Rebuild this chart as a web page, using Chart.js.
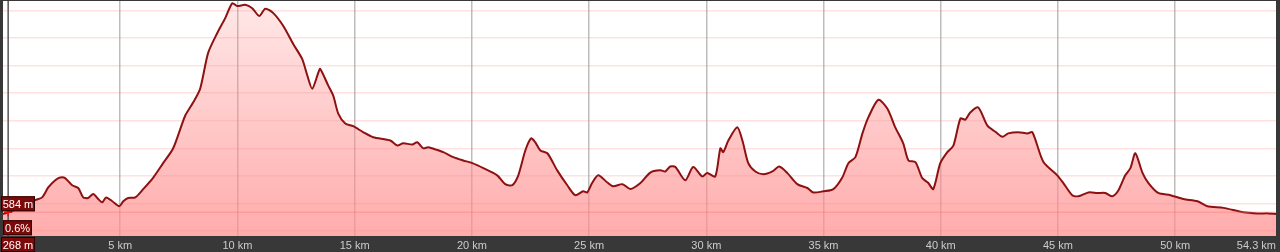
<!DOCTYPE html>
<html>
<head>
<meta charset="utf-8">
<script src="https://cdn.jsdelivr.net/npm/chart.js@4"></script>
<style>
  html, body { margin: 0; padding: 0; background: #383838; }
  #wrap { width: 1280px; height: 252px; position: relative; }
</style>
</head>
<body>
<div id="wrap"><canvas id="profile"></canvas></div>
<script>
// distance along the route (km) and elevation (m)
const distKm = [
  0, 0.22, 0.73, 1.37, 1.67, 1.93, 2.23, 2.44, 2.65, 2.95, 3.21, 3.42, 3.63, 3.85, 4.06, 4.23, 4.40, 4.66, 4.96,
  5.13, 5.34, 5.64, 5.98, 6.41, 6.83, 7.26, 7.77, 8.11, 8.41, 8.75, 9.14, 9.48, 9.78, 9.99,
  10.33, 10.63, 10.93, 11.19, 11.53, 11.95, 12.38, 12.76, 12.98, 13.19, 13.45, 13.53, 13.87, 14.09, 14.30, 14.60, 14.94,
  15.37, 15.79, 16.52, 16.82, 17.07, 17.46, 17.67, 17.93, 18.14, 18.44, 18.78, 19.21, 19.63,
  20.02, 20.49, 21.08, 21.42, 21.72, 21.98, 22.28, 22.53, 22.70, 22.92, 23.22, 23.64, 24.07, 24.41, 24.75, 24.92,
  25.14, 25.39, 25.78, 26.03, 26.42, 26.76, 27.19, 27.61, 28.04, 28.25, 28.46, 28.68, 29.10, 29.44, 29.83,
  30.04, 30.38, 30.60, 30.72, 30.94, 31.32, 31.54, 31.79, 32.09, 32.43, 32.82, 33.11, 33.46, 33.88, 34.31, 34.56, 34.99,
  35.42, 35.80, 36.06, 36.36, 36.66, 36.91, 37.34, 37.72, 38.06, 38.40, 38.62, 38.92, 39.21, 39.47, 39.68, 39.98,
  40.28, 40.54, 40.84, 41.05, 41.26, 41.60, 41.99, 42.33, 42.63, 42.88, 43.31, 43.70, 43.91, 44.38, 44.97,
  45.23, 45.61, 45.87, 46.30, 46.68, 47.02, 47.32, 47.58, 47.87, 48.09, 48.30, 48.60, 48.86, 49.28, 49.80,
  50.35, 50.95, 51.37, 52.06, 52.91, 53.51, 53.98, 54.3
];
const elevM = [
  581, 584, 592, 606, 611, 629, 642, 647, 646, 633, 628, 611, 610, 617, 608, 602, 611, 604, 595,
  604, 610, 611, 626, 647, 673, 700, 759, 783, 808, 873, 909, 936, 963, 958,
  960, 954, 940, 953, 945, 922, 889, 862, 832, 808, 837, 844, 814, 795, 763, 745, 740,
  729, 720, 714, 705, 709, 707, 711, 700, 702, 698, 693, 684, 678,
  673, 664, 651, 635, 633, 651, 696, 718, 711, 696, 691, 660, 633, 615, 622, 620,
  638, 651, 638, 631, 635, 626, 637, 656, 660, 658, 667, 666, 642, 666, 649,
  655, 649, 700, 693, 714, 738, 714, 673, 658, 653, 658, 667, 655, 635, 628, 620, 622,
  626, 647, 673, 684, 727, 756, 788, 772, 738, 709, 678, 675, 646, 637, 626, 673,
  693, 705, 754, 752, 765, 774, 741, 730, 721, 727, 729, 727, 729, 675, 651,
  637, 615, 613, 620, 619, 619, 613, 624, 651, 664, 691, 656, 637, 619, 615,
  608, 604, 595, 592, 584, 582, 582, 581
];
const xTicksKm = [0, 5, 10, 15, 20, 25, 30, 35, 40, 45, 50, 54.3];
const yGridM = [550, 600, 650, 700, 750, 800, 850, 900, 950];

// hover readout shown at the start of the route
const cursorKm = 0.22;
const cursorElev = 584;
const cursorElevLabel = '584 m';
const cursorGradeLabel = '0.6%';
const cursorDistLabel = '268 m';

const FONT = 'Arial, "Liberation Sans", sans-serif';

function drawBox(ctx, text, left, top, w, h) {
  ctx.fillStyle = '#7d0a0a';
  ctx.fillRect(left, top, w, h);
  ctx.strokeStyle = '#2a0000';
  ctx.lineWidth = 1;
  ctx.strokeRect(left + 0.5, top + 0.5, w - 1, h - 1);
  ctx.fillStyle = '#ffffff';
  ctx.font = '11px ' + FONT;
  ctx.textAlign = 'center';
  ctx.textBaseline = 'middle';
  ctx.fillText(text, left + w / 2, top + h / 2 + 1);
}

const framePlugin = {
  id: 'frame',
  beforeDraw(chart) {
    const { ctx, chartArea: a, width, height } = chart;
    ctx.save();
    ctx.fillStyle = '#383838';
    ctx.fillRect(0, 0, width, height);
    ctx.fillStyle = '#ffffff';
    ctx.fillRect(a.left, a.top, a.right - a.left, a.bottom - a.top);
    ctx.restore();
  },
  afterDraw(chart) {
    const { ctx, chartArea: a } = chart;
    const x = chart.scales.x.getPixelForValue(cursorKm);
    const y = chart.scales.y.getPixelForValue(cursorElev);
    ctx.save();
    // crosshair
    ctx.strokeStyle = 'rgba(255,110,110,0.35)';
    ctx.lineWidth = 1.5;
    ctx.beginPath();
    ctx.moveTo(a.left, y);
    ctx.lineTo(a.right, y);
    ctx.stroke();
    ctx.strokeStyle = '#555555';
    ctx.lineWidth = 1.5;
    ctx.beginPath();
    ctx.moveTo(x, a.top);
    ctx.lineTo(x, a.bottom);
    ctx.stroke();
    ctx.strokeStyle = '#e01010';
    ctx.lineWidth = 1.5;
    ctx.beginPath();
    ctx.moveTo(x - 4, y);
    ctx.lineTo(x + 4, y);
    ctx.moveTo(x, y - 4);
    ctx.lineTo(x, y + 4);
    ctx.stroke();
    // readout boxes
    drawBox(ctx, cursorElevLabel, 1, y - 16, 34, 15);
    drawBox(ctx, cursorGradeLabel, 3, y + 8, 29, 15);
    drawBox(ctx, cursorDistLabel, 1, a.bottom + 1, 34, 15);
    ctx.restore();
  }
};

const ctx = document.getElementById('profile').getContext('2d');

const profileChart = new Chart(ctx, {
  type: 'line',
  data: {
    datasets: [{
      data: distKm.map((d, i) => ({ x: d, y: elevM[i] })),
      borderColor: '#8e1010',
      borderWidth: 2,
      pointRadius: 0,
      tension: 0.25,
      fill: 'start',
      backgroundColor: (c) => {
        const area = c.chart.chartArea;
        if (!area) return 'rgba(255,140,140,0.5)';
        const g = c.chart.ctx.createLinearGradient(0, area.top, 0, area.bottom);
        g.addColorStop(0, 'rgba(255,140,140,0.2)');
        g.addColorStop(1, 'rgba(255,140,140,0.72)');
        return g;
      },
    }],
  },
  options: {
    responsive: true,
    maintainAspectRatio: false,
    devicePixelRatio: 1,
    animation: false,
    layout: { padding: { left: 3, right: 4, top: 1, bottom: 0 } },
    plugins: {
      legend: { display: false },
      tooltip: { enabled: false },
    },
    scales: {
      x: {
        type: 'linear',
        min: 0,
        max: 54.3,
        afterBuildTicks: (s) => { s.ticks = xTicksKm.map((v) => ({ value: v })); },
        afterFit: (s) => { s.height = 16; },
        border: { display: false },
        grid: {
          color: (c) => (c.tick && c.tick.value > 0 && c.tick.value < 54.3 ? '#bdbdbd' : 'rgba(0,0,0,0)'),
          lineWidth: 1.5,
          drawTicks: false,
        },
        ticks: {
          autoSkip: false,
          maxRotation: 0,
          align: 'inner',
          padding: 3,
          color: '#cccccc',
          font: { size: 11, family: FONT },
          callback: (v) => (v === 0 ? '' : v + ' km'),
        },
      },
      y: {
        min: 541,
        max: 967,
        afterBuildTicks: (s) => { s.ticks = yGridM.map((v) => ({ value: v })); },
        border: { display: false },
        grid: { color: 'rgba(255,120,120,0.22)', lineWidth: 1.5, drawTicks: false },
        ticks: { display: false },
      },
    },
  },
  plugins: [framePlugin],
});
</script>
</body>
</html>
